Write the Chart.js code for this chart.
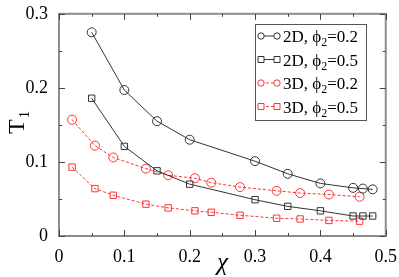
<!DOCTYPE html>
<html>
<head>
<meta charset="utf-8">
<script src="https://cdn.jsdelivr.net/npm/chart.js@4/dist/chart.umd.min.js"></script>
<style>
  html, body { margin: 0; padding: 0; background: #fff; }
  #wrap { width: 399px; height: 277px; }
</style>
</head>
<body>
<div id="wrap"><canvas id="chart" width="399" height="277"></canvas></div>
<script>
// data
const chi2D = [0.05, 0.1, 0.15, 0.2, 0.3, 0.35, 0.4, 0.45, 0.465, 0.48];
const t2D_02 = [0.275, 0.197, 0.155, 0.130, 0.101, 0.084, 0.071, 0.065, 0.064, 0.063];
const t2D_05 = [0.186, 0.121, 0.088, 0.070, 0.049, 0.040, 0.034, 0.027, 0.027, 0.027];
const chi3D = [0.02, 0.055, 0.083, 0.133, 0.167, 0.208, 0.233, 0.277, 0.333, 0.369, 0.413, 0.46];
const t3D_02 = [0.157, 0.122, 0.106, 0.091, 0.082, 0.078, 0.072, 0.066, 0.061, 0.058, 0.056, 0.053];
const t3D_05 = [0.093, 0.064, 0.055, 0.043, 0.038, 0.034, 0.032, 0.028, 0.024, 0.023, 0.021, 0.020];

const seriesNames = [['2D, ϕ', '2', '=0.2'], ['2D, ϕ', '2', '=0.5'], ['3D, ϕ', '2', '=0.2'], ['3D, ϕ', '2', '=0.5']];
const xTicks = [0, 0.1, 0.2, 0.3, 0.4, 0.5];
const yTicks = [0, 0.1, 0.2, 0.3];

const serif = "'Liberation Serif', 'DejaVu Serif', serif";
const black = '#333333';
const red = '#ff3333';

function pts(xs, ys) {
  return xs.map((x, i) => ({ x: x, y: ys[i] }));
}

function makeSet(label, xs, ys, color, shape, dashed) {
  return {
    label: label,
    data: pts(xs, ys),
    borderColor: color,
    borderWidth: 1,
    borderDash: dashed ? [3, 2] : [],
    pointStyle: shape,
    pointRadius: 4.5,
    pointBorderColor: color,
    pointBackgroundColor: 'rgba(0,0,0,0)',
    pointBorderWidth: 1,
    tension: 0,
    fill: false
  };
}

// frame, inward ticks, titles and legend
const decorPlugin = {
  id: 'decor',
  afterDraw(chart) {
    const ctx = chart.ctx;
    const a = chart.chartArea;
    const xs = chart.scales.x;
    const ys = chart.scales.y;
    ctx.save();
    ctx.strokeStyle = '#8c8c8c';
    ctx.lineWidth = 2;
    ctx.strokeRect(a.left, a.top, a.right - a.left, a.bottom - a.top);

    ctx.lineWidth = 1;
    ctx.strokeStyle = '#444';
    for (let v = 0; v <= 0.5001; v += 0.05) {
      const px = Math.round(xs.getPixelForValue(v)) + 0.5;
      const major = Math.abs(v * 10 - Math.round(v * 10)) < 1e-6;
      const len = major ? 6 : 3;
      ctx.beginPath();
      ctx.moveTo(px, a.bottom); ctx.lineTo(px, a.bottom - len);
      ctx.moveTo(px, a.top); ctx.lineTo(px, a.top + len);
      ctx.stroke();
    }
    for (let v = 0; v <= 0.3001; v += 0.05) {
      const py = Math.round(ys.getPixelForValue(v)) + 0.5;
      const major = Math.abs(v * 10 - Math.round(v * 10)) < 1e-6;
      const len = major ? 6 : 3;
      ctx.beginPath();
      ctx.moveTo(a.left, py); ctx.lineTo(a.left + len, py);
      ctx.moveTo(a.right, py); ctx.lineTo(a.right - len, py);
      ctx.stroke();
    }

    // axis titles
    ctx.fillStyle = '#000';
    ctx.font = 'italic 25px ' + serif;
    ctx.textAlign = 'center';
    ctx.textBaseline = 'alphabetic';
    ctx.fillText('χ', (a.left + a.right) / 2, 270);

    ctx.save();
    ctx.translate(24, 134);
    ctx.rotate(-Math.PI / 2);
    ctx.textAlign = 'left';
    ctx.font = '24px ' + serif;
    ctx.fillText('T', 0, 0);
    const tw = ctx.measureText('T').width;
    ctx.font = '15px ' + serif;
    ctx.fillText('1', tw + 1, 5);
    ctx.restore();

    // legend
    const lx = 255, ly = 24, lw = 111, lh = 96;
    ctx.fillStyle = '#fff';
    ctx.fillRect(lx, ly, lw, lh);
    ctx.strokeStyle = '#555';
    ctx.lineWidth = 1;
    ctx.strokeRect(lx + 0.5, ly + 0.5, lw, lh);
    chart.data.datasets.forEach((ds, i) => {
      const cy = ly + 12 + i * 23.5;
      ctx.strokeStyle = ds.borderColor;
      ctx.setLineDash(ds.borderDash);
      ctx.beginPath();
      ctx.moveTo(lx + 6, cy); ctx.lineTo(lx + 22, cy);
      ctx.stroke();
      ctx.setLineDash([]);
      [lx + 6, lx + 22].forEach(px => {
        ctx.beginPath();
        if (ds.pointStyle === 'circle') {
          ctx.arc(px, cy, 3.2, 0, Math.PI * 2);
        } else {
          ctx.rect(px - 3, cy - 3, 6, 6);
        }
        ctx.fillStyle = '#fff';
        ctx.fill();
        ctx.stroke();
      });
      const parts = seriesNames[i];
      let tx = lx + 28;
      ctx.fillStyle = '#000';
      ctx.textAlign = 'left';
      ctx.font = '17px ' + serif;
      ctx.fillText(parts[0], tx, cy + 6);
      tx += ctx.measureText(parts[0]).width;
      ctx.font = '12px ' + serif;
      ctx.fillText(parts[1], tx, cy + 10);
      tx += ctx.measureText(parts[1]).width;
      ctx.font = '17px ' + serif;
      ctx.fillText(parts[2], tx, cy + 6);
    });
    ctx.restore();
  }
};

new Chart(document.getElementById('chart'), {
  type: 'line',
  data: {
    datasets: [
      makeSet('2D, ϕ2=0.2', chi2D, t2D_02, black, 'circle', false),
      makeSet('2D, ϕ2=0.5', chi2D, t2D_05, black, 'rect', false),
      makeSet('3D, ϕ2=0.2', chi3D, t3D_02, red, 'circle', true),
      makeSet('3D, ϕ2=0.5', chi3D, t3D_05, red, 'rect', true)
    ]
  },
  options: {
    responsive: false,
    animation: false,
    layout: { padding: { top: 7, right: 12, left: 0, bottom: 0 } },
    plugins: { legend: { display: false }, tooltip: { enabled: false } },
    scales: {
      x: {
        type: 'linear',
        min: 0, max: 0.5,
        afterFit: s => { s.height = 41; },
        afterBuildTicks: s => { s.ticks = xTicks.map(v => ({ value: v })); },
        grid: { display: false },
        border: { display: false },
        ticks: {
          color: '#000',
          padding: 2,
          font: { family: serif, size: 18 },
          callback: v => String(v)
        }
      },
      y: {
        min: 0, max: 0.3,
        afterFit: s => { s.width = 59; },
        afterBuildTicks: s => { s.ticks = yTicks.map(v => ({ value: v })); },
        grid: { display: false },
        border: { display: false },
        ticks: {
          color: '#000',
          padding: 3,
          font: { family: serif, size: 18 },
          callback: v => String(v)
        }
      }
    }
  },
  plugins: [decorPlugin]
});
</script>
</body>
</html>
